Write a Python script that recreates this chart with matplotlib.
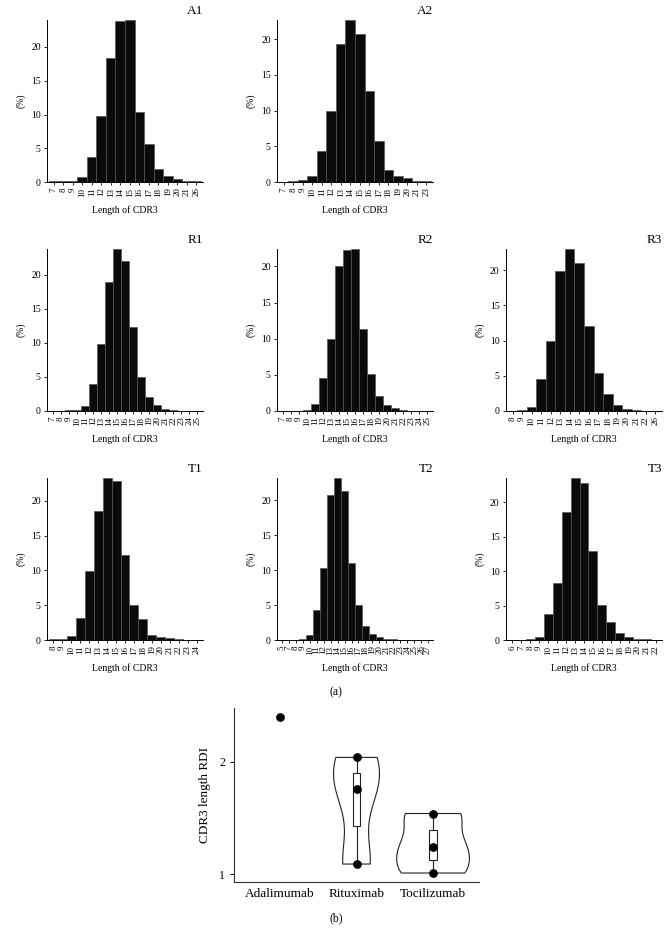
import matplotlib
matplotlib.use("Agg")
import matplotlib.pyplot as plt
import numpy as np

plt.rcParams["font.family"] = ["Liberation Serif", "DejaVu Serif"]

# CDR3 length distributions (%)
a1_len = [7, 8, 9, 10, 11, 12, 13, 14, 15, 16, 17, 18, 19, 20, 21, 26]
a1_pct = [0.1, 0.15, 0.15, 0.8, 3.7, 9.8, 18.4, 23.8, 24.0, 10.4, 5.7, 1.9, 0.9, 0.4, 0.2, 0.1]

a2_len = [7, 8, 9, 10, 11, 12, 13, 14, 15, 16, 17, 18, 19, 20, 21, 23]
a2_pct = [0.05, 0.1, 0.3, 0.8, 4.4, 10.0, 19.4, 22.7, 20.7, 12.8, 5.8, 1.7, 0.9, 0.6, 0.2, 0.1]

r1_len = list(range(7, 26))
r1_pct = [0.05, 0.05, 0.1, 0.1, 0.8, 4.0, 9.8, 19.0, 23.8, 22.0, 12.3, 5.0, 2.1, 0.9, 0.3, 0.15, 0.05, 0.05, 0.05]

r2_len = list(range(7, 26))
r2_pct = [0.05, 0.05, 0.05, 0.2, 0.9, 4.5, 10.0, 20.1, 22.2, 22.4, 11.4, 5.1, 2.1, 0.8, 0.4, 0.15, 0.05, 0.05, 0.05]

r3_len = [8, 9, 10, 11, 12, 13, 14, 15, 16, 17, 18, 19, 20, 21, 22, 26]
r3_pct = [0.05, 0.15, 0.5, 4.5, 10.0, 19.9, 23.0, 21.0, 12.1, 5.4, 2.4, 0.9, 0.3, 0.15, 0.05, 0.05]

t1_len = list(range(8, 25))
t1_pct = [0.1, 0.2, 0.6, 3.1, 9.9, 18.5, 23.3, 22.8, 12.2, 5.1, 3.0, 0.7, 0.4, 0.25, 0.1, 0.05, 0.05]

t2_len = [5] + list(range(7, 28))
t2_pct = [0.02, 0.03, 0.05, 0.1, 0.7, 4.3, 10.3, 20.8, 23.2, 21.3, 11.0, 5.0, 2.0, 0.8, 0.4, 0.2,
          0.1, 0.05, 0.05, 0.03, 0.03, 0.02]

t3_len = list(range(6, 23))
t3_pct = [0.05, 0.05, 0.1, 0.5, 3.7, 8.3, 18.5, 23.5, 22.8, 12.9, 5.1, 2.6, 1.0, 0.4, 0.2, 0.1, 0.05]

# CDR3 length RDI per treatment group
groups = ["Adalimumab", "Rituximab", "Tocilizumab"]
adalimumab_rdi = [2.40]
rituximab_rdi = [1.09, 1.76, 2.04]
tocilizumab_rdi = [1.01, 1.24, 1.54]

W, H = 672, 944
fig = plt.figure(figsize=(W / 100, H / 100), dpi=100)

panels = [
    ("A1", a1_len, a1_pct, 47, 20),
    ("A2", a2_len, a2_pct, 277, 20),
    ("R1", r1_len, r1_pct, 47, 249),
    ("R2", r2_len, r2_pct, 277, 249),
    ("R3", r3_len, r3_pct, 506, 249),
    ("T1", t1_len, t1_pct, 47, 478),
    ("T2", t2_len, t2_pct, 277, 478),
    ("T3", t3_len, t3_pct, 506, 478),
]

for name, lens, pct, left, top in panels:
    ax = fig.add_axes([left / W, 1 - (top + 162) / H, 156 / W, 162 / H])
    x = np.arange(len(lens))
    ax.bar(x, pct, width=1.0, color="#0a0a0a", edgecolor="#555555", linewidth=0.5)
    ax.set_xlim(-0.7, len(lens) - 0.3)
    ax.set_ylim(0, max(pct))
    ax.set_xticks(x)
    ax.set_xticklabels([str(v) for v in lens], rotation=90, fontsize=6.5)
    ax.set_yticks([0, 5, 10, 15, 20])
    ax.tick_params(axis="y", labelsize=7, length=2.5, width=0.6, pad=2)
    ax.tick_params(axis="x", length=2.5, width=0.6, pad=1.5)
    for s in ["top", "right"]:
        ax.spines[s].set_visible(False)
    for s in ["left", "bottom"]:
        ax.spines[s].set_linewidth(0.7)
    ax.set_ylabel("(%)", fontsize=7, labelpad=4)
    ax.text(1.0, 1.02, name, transform=ax.transAxes, ha="right", va="bottom", fontsize=9.5)
    ax.text(0.5, -0.175, "Length of CDR3", transform=ax.transAxes, ha="center", va="center", fontsize=7)

fig.text(336 / W, 1 - 692 / H, "(a)", ha="center", va="center", fontsize=8.5)

# violin / box / points panel
ax = fig.add_axes([234 / W, 1 - 882 / H, 245 / W, 174 / H])
vp = ax.violinplot([rituximab_rdi, tocilizumab_rdi], positions=[1, 2], widths=[0.6, 0.95],
                   bw_method=0.53, showextrema=False)
for body in vp["bodies"]:
    body.set_facecolor("none")
    body.set_edgecolor("#222222")
    body.set_linewidth(0.8)
    body.set_alpha(1)

bp = ax.boxplot([rituximab_rdi, tocilizumab_rdi], positions=[1, 2], widths=0.1, whis=(0, 100),
                patch_artist=True, showcaps=False, showfliers=False,
                medianprops=dict(color="#222222", linewidth=0.8),
                whiskerprops=dict(color="#222222", linewidth=0.8),
                boxprops=dict(facecolor="white", edgecolor="#222222", linewidth=0.8))

for i, vals in enumerate([adalimumab_rdi, rituximab_rdi, tocilizumab_rdi]):
    ax.scatter([i] * len(vals), vals, s=28, color="black", zorder=5)

ax.set_xlim(-0.6, 2.6)
ax.set_ylim(0.93, 2.48)
ax.set_xticks([0, 1, 2])
ax.set_xticklabels(groups, fontsize=9.5)
ax.set_yticks([1, 2])
ax.tick_params(axis="y", labelsize=8.5, length=3, width=0.7)
ax.tick_params(axis="x", length=0, pad=4)
for s in ["top", "right"]:
    ax.spines[s].set_visible(False)
for s in ["left", "bottom"]:
    ax.spines[s].set_linewidth(0.8)
    ax.spines[s].set_color("#333333")
ax.set_ylabel("CDR3 length RDI", fontsize=9.5, labelpad=6)

fig.text(336 / W, 1 - 918 / H, "(b)", ha="center", va="center", fontsize=8.5)

fig.savefig("out.png", dpi=100, facecolor="white")
